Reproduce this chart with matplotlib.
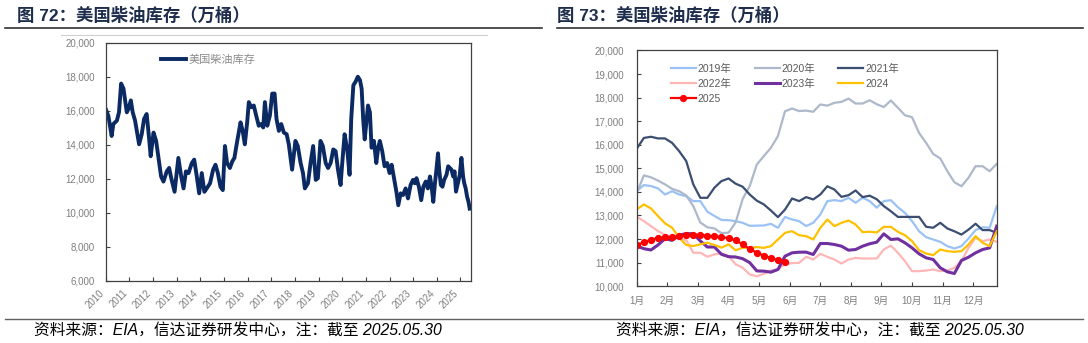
import matplotlib
matplotlib.use("Agg")
import matplotlib.pyplot as plt
from matplotlib.lines import Line2D

plt.rcParams['font.family'] = ['Liberation Sans', 'Noto Sans CJK SC']

# ---- left chart: US distillate stocks, 2010 - 2025.05 (10k barrels)
stock_dates = [
  2010.00, 2010.11, 2010.25, 2010.32, 2010.47, 2010.56, 2010.65, 2010.75,
  2010.89, 2010.96, 2011.06, 2011.14, 2011.24, 2011.41, 2011.52, 2011.62,
  2011.73, 2011.83, 2011.90, 2012.02, 2012.13, 2012.23, 2012.34, 2012.44,
  2012.58, 2012.68, 2012.77, 2012.91, 2013.07, 2013.19, 2013.29, 2013.39,
  2013.50, 2013.64, 2013.74, 2013.85, 2013.95, 2014.06, 2014.17, 2014.27,
  2014.41, 2014.54, 2014.64, 2014.74, 2014.85, 2014.95, 2015.04, 2015.13,
  2015.25, 2015.35, 2015.44, 2015.56, 2015.70, 2015.79, 2015.88, 2015.98,
  2016.05, 2016.15, 2016.26, 2016.36, 2016.47, 2016.57, 2016.66, 2016.73,
  2016.83, 2016.94, 2017.04, 2017.14, 2017.22, 2017.32, 2017.42, 2017.53,
  2017.65, 2017.74, 2017.88, 2018.02, 2018.12, 2018.24, 2018.34, 2018.42,
  2018.55, 2018.66, 2018.77, 2018.88, 2018.97, 2019.08, 2019.18, 2019.30,
  2019.40, 2019.51, 2019.62, 2019.72, 2019.82, 2019.93, 2020.00, 2020.10,
  2020.21, 2020.31, 2020.38, 2020.47, 2020.56, 2020.66, 2020.75, 2020.82,
  2020.89, 2020.95, 2021.02, 2021.09, 2021.17, 2021.24, 2021.34, 2021.44,
  2021.52, 2021.59, 2021.69, 2021.79, 2021.90, 2022.00, 2022.09, 2022.19,
  2022.29, 2022.37, 2022.47, 2022.57, 2022.68, 2022.78, 2022.89, 2022.99,
  2023.07, 2023.14, 2023.24, 2023.34, 2023.43, 2023.53, 2023.62, 2023.71,
  2023.78, 2023.85, 2023.92, 2023.99, 2024.05, 2024.10, 2024.17, 2024.24,
  2024.31, 2024.41, 2024.48, 2024.55, 2024.62, 2024.69, 2024.75, 2024.81,
  2024.89, 2024.97, 2025.04, 2025.11, 2025.16, 2025.22, 2025.28, 2025.34,
  2025.39,
]
stock_values = [
  16100, 15700, 14520, 15220, 15420, 15910, 17600, 17300,
  15910, 16110, 16610, 15910, 15420, 14030, 14620, 15520,
  15810, 14420, 13330, 14720, 14230, 13230, 12140, 11840,
  12440, 12640, 12040, 11240, 13230, 12140, 11440, 12440,
  12340, 12930, 13130, 12140, 11150, 12340, 11240, 11440,
  11740, 12540, 12830, 12340, 11540, 11340, 13930, 12930,
  12640, 13030, 13230, 14230, 15320, 14820, 14030, 15320,
  16510, 16210, 16310, 15720, 15120, 15220, 15020, 16510,
  15120, 15720, 17010, 17010, 15520, 14820, 15220, 14720,
  14620, 14030, 12540, 14230, 13930, 12930, 12340, 11440,
  11740, 12930, 13930, 11940, 12040, 14230, 13930, 12930,
  12640, 12930, 13730, 13630, 12540, 11640, 12930, 14620,
  13730, 12240, 15520, 17500, 17700, 18000, 17800, 17300,
  15420, 14320, 15320, 16310, 15910, 13830, 14230, 12930,
  13830, 14230, 13630, 12740, 12930, 12340, 12830, 12040,
  11240, 10450, 11150, 11050, 11440, 10850, 11640, 11940,
  11740, 12040, 11540, 10750, 11540, 11840, 11440, 12140,
  11540, 10650, 11740, 12640, 13500, 12540, 11640, 11540,
  11940, 12240, 12740, 12640, 12540, 12140, 12440, 11250,
  11740, 12240, 13230, 12140, 11740, 11440, 10950, 10650,
  10250,
]
years = list(range(2010, 2026))

# ---- right chart: weekly stocks by year (10k barrels), 52 weeks
months = ["1月", "2月", "3月", "4月", "5月", "6月",
          "7月", "8月", "9月", "10月", "11月", "12月"]

y2019 = [14040, 14290, 14250, 14150, 13890, 14030, 13890, 13820, 13610, 13610,
         13160, 12980, 12810, 12800, 12760, 12690, 12560, 12570, 12575, 12645,
         12476, 12940, 12830, 12760, 12550, 12690, 13040, 13610, 13650, 13610,
         13750, 13540, 13750, 13610, 13330, 13610, 13650, 13350, 13110, 12760,
         12330, 12080, 11980, 11880, 11700, 11600, 11700, 12020, 12380, 12500,
         12480, 13390]
y2020 = [13960, 14700, 14620, 14480, 14320, 14130, 14030, 13850, 13400, 12700,
         12500, 12450, 12250, 12270, 12700, 13700, 14250, 15160, 15520, 15870,
         16370, 17420, 17540, 17430, 17450, 17400, 17710, 17660, 17780, 17820,
         17960, 17750, 17750, 17890, 17720, 17600, 17880, 17570, 17250, 17170,
         16500, 16080, 15610, 15420, 14880, 14410, 14240, 14600, 15090, 15090,
         14880, 15190]
y2021 = [15840, 16290, 16340, 16270, 16270, 16080, 15730, 15310, 14320, 13750,
         13750, 14180, 14460, 14570, 14350, 14220, 13890, 13630, 13470, 13210,
         12930, 13250, 13720, 13610, 13780, 13680, 13890, 14240, 14100, 13790,
         13860, 14060, 13780, 13840, 13690, 13400, 13180, 12940, 12940, 12940,
         12940, 12520, 12480, 12690, 12450, 12330, 12190, 12400, 12650, 12380,
         12380, 12260]
y2022 = [12950, 12760, 12550, 12340, 12170, 12060, 12020, 11960, 11420, 11420,
         11250, 11350, 11390, 11280, 10930, 10790, 10500, 10420, 10525, 10666,
         10709, 10949, 10977, 10991, 11246, 11133, 11373, 11246, 11133, 10963,
         11133, 11203, 11175, 11175, 11175, 11557, 11726, 11415, 11062, 10638,
         10638, 10666, 10709, 10638, 10666, 10779, 11062, 11627, 12052, 11910,
         11981, 11882]
y2023 = [11705, 11592, 11536, 11748, 12016, 11945, 12171, 12228, 12228, 11917,
         11663, 11663, 11352, 11253, 11239, 11168, 10999, 10650, 10638, 10595,
         10709, 11274, 11415, 11444, 11444, 11345, 11811, 11811, 11769, 11698,
         11528, 11557, 11698, 11800, 11868, 12221, 11981, 12009, 11840, 11627,
         11373, 11203, 11133, 10779, 10609, 10539, 11090, 11231, 11415, 11557,
         11627, 12547]
y2024 = [13258, 13470, 13301, 12976, 12665, 12482, 12058, 11748, 11705, 11776,
         11846, 11748, 11635, 11776, 11522, 11635, 11620, 11660, 11627, 11698,
         11981, 12264, 12334, 12165, 12122, 11981, 12476, 12829, 12547, 12688,
         12787, 12617, 12292, 12310, 12280, 12518, 12518, 12306, 12165, 11910,
         11528, 11387, 11316, 11557, 11486, 11458, 11486, 11769, 12122, 11840,
         11698, 12334]
y2025 = [11750, 11860, 11970, 12040, 12080, 12090, 12120, 12160, 12180, 12180,
         12140, 12110, 12080, 12040, 11940, 11780, 11580, 11420, 11300, 11190,
         11100, 11010]

series = [
  ("2019年", y2019, "#9BC2F5", 1.6),
  ("2020年", y2020, "#ADB9CA", 1.6),
  ("2021年", y2021, "#3B4E72", 1.6),
  ("2022年", y2022, "#FFB6B6", 1.6),
  ("2023年", y2023, "#7030A0", 2.2),
  ("2024", y2024, "#FFC000", 1.6),
]

TICK_GRAY = "#7F7F7F"
SPINE = "#404040"
TITLE = "#1F2D4D"


def style_axes(ax):
  for s in ax.spines.values():
    s.set_color(SPINE)
    s.set_linewidth(0.9)
  ax.tick_params(direction="in", length=3, width=0.8, color=SPINE,
                 labelcolor=TICK_GRAY, labelsize=7)


fig = plt.figure(figsize=(10.88, 3.43), dpi=100)

# left chart
ax1 = fig.add_axes([0.0972, 0.1808, 0.3356, 0.6947])
ax1.plot(stock_dates, stock_values, color="#0B2A63", lw=2.8,
         solid_joinstyle="round", label="美国柴油库存")
ax1.set_xlim(2010, 2025.44)
ax1.set_ylim(6000, 20000)
ax1.set_yticks(range(6000, 20001, 2000))
ax1.set_yticklabels([f"{v:,}" for v in range(6000, 20001, 2000)])
ax1.set_xticks(years)
ax1.set_xticklabels([str(y) for y in years], rotation=45, ha="right",
                    va="top")
style_axes(ax1)
ax1.tick_params(axis="y", pad=8)
ax1.tick_params(axis="x", pad=5)
leg1 = ax1.legend(loc="upper left", bbox_to_anchor=(0.135, 0.975),
                  frameon=False, fontsize=8, handlelength=2.3,
                  handletextpad=0.2, borderpad=0)
for t in leg1.get_texts():
  t.set_color("#8C8C8C")

# right chart
ax2 = fig.add_axes([0.5853, 0.1656, 0.3308, 0.6872])
weeks = list(range(52))
handles = {}
for name, vals, col, lw in series:
  handles[name], = ax2.plot(weeks[:len(vals)], vals, color=col, lw=lw,
                            label=name)
handles["2025"], = ax2.plot(weeks[:len(y2025)], y2025, color="#FF0000", lw=1.6,
                            marker="o", markersize=4.2, label="2025")
ax2.set_xlim(0, 51)
ax2.set_ylim(10000, 20000)
ax2.set_yticks(range(10000, 20001, 1000))
ax2.set_yticklabels([f"{v:,}" for v in range(10000, 20001, 1000)])
ax2.set_xticks([i * 52 / 12 for i in range(12)])
ax2.set_xticklabels(months)
style_axes(ax2)
ax2.tick_params(axis="y", pad=9)
ax2.tick_params(axis="x", pad=7)
order = ["2019年", "2022年", "2025", "2020年", "2023年", "2021年", "2024"]
leg2 = ax2.legend([handles[k] for k in order], order, ncol=3,
                  loc="upper left", bbox_to_anchor=(0.08, 0.965),
                  frameon=False, fontsize=7.5, handlelength=2.4,
                  handletextpad=0.2, columnspacing=2.2, labelspacing=0.45,
                  borderpad=0)
for t in leg2.get_texts():
  t.set_color("#595959")

# titles, rules and sources (full-width punctuation as in the original)
title_font = dict(fontsize=12.5, fontweight="bold", color=TITLE, va="center")
fig.text(17 / 1088, 1 - 15.5 / 343,
         "图 72\uff1a美国柴油库存\uff08万桶\uff09", **title_font)
fig.text(557 / 1088, 1 - 15.5 / 343,
         "图 73\uff1a美国柴油库存\uff08万桶\uff09", **title_font)


def hline(x0, x1, y, color, lw):
  fig.add_artist(Line2D([x0 / 1088, x1 / 1088], [1 - y / 343, 1 - y / 343],
                        color=color, lw=lw, transform=fig.transFigure))


hline(5, 542, 27.5, "#303030", 1.2)
hline(557, 1083, 27.5, "#303030", 1.2)
hline(61, 487, 34.7, "#D0D0D0", 0.8)
hline(5, 1083, 319, "#606060", 1.0)

src = ("资料来源\uff1aEIA\uff0c信达证券研发中心\uff0c注\uff1a截至 "
       "2025.05.30")
src_font = dict(fontsize=11.3, style="italic", color="#000000", va="center")
fig.text(34 / 1088, 1 - 330 / 343, src, **src_font)
fig.text(616 / 1088, 1 - 330 / 343, src, **src_font)

fig.savefig("out.png", dpi=100, facecolor="white")
